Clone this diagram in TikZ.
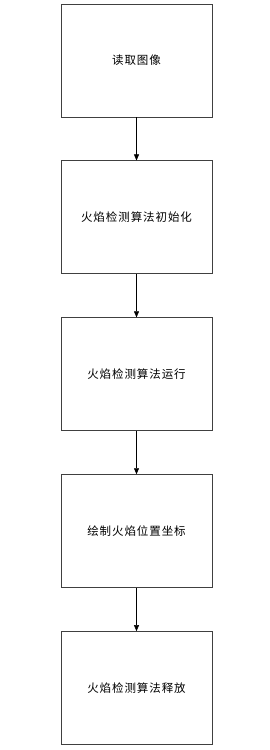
\documentclass[tikz,border=0pt]{standalone}
\usepackage{fontspec}
\newfontfamily\cjk[LetterSpace=8]{Noto Sans CJK SC}
\usetikzlibrary{arrows.meta,positioning}
\tikzset{
  box/.style={draw=black!75,line width=0.9pt,minimum width=151pt,minimum height=113pt,align=center,inner sep=4pt,font=\cjk\fontsize{11.5pt}{14pt}\selectfont},
  >={Triangle[length=6pt,width=5pt]}
}
\begin{document}
\begin{tikzpicture}[x=1pt,y=1pt,node distance=43pt]
    \useasboundingbox (0,0) rectangle (270,-750);
    \node[box] (read) at (136.5,-60.5) {读取图像};
    \node[box,below=of read] (init) {火焰检测算法初始化};
    \node[box,below=of init] (run) {火焰检测算法运行};
    \node[box,below=of run] (draw) {绘制火焰位置坐标};
    \node[box,below=of draw] (free) {火焰检测算法释放};
    \draw[->,thin] (read)--(init);
    \draw[->,thin] (init)--(run);
    \draw[->,thin] (run)--(draw);
    \draw[->,thin] (draw)--(free);
\end{tikzpicture}
\end{document}
